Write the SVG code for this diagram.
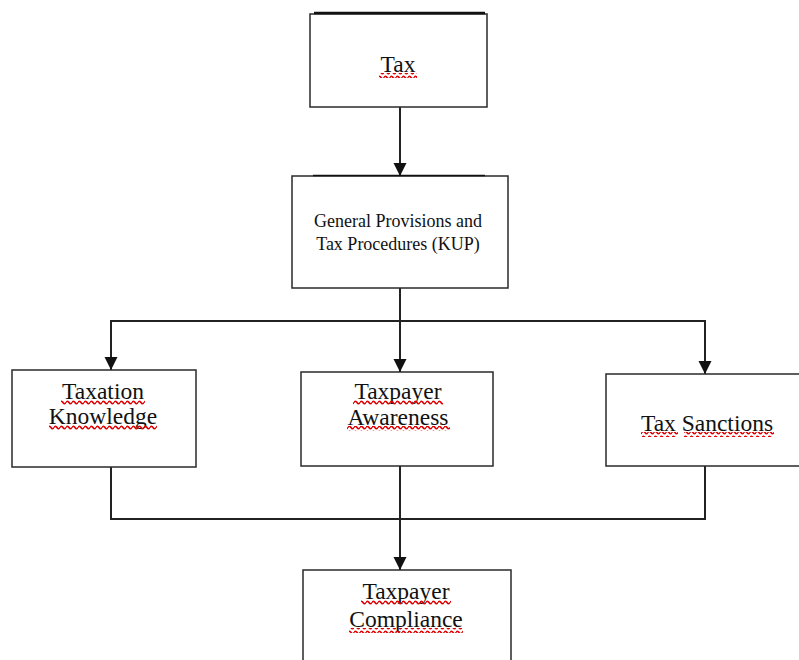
<svg xmlns="http://www.w3.org/2000/svg" width="799" height="660" viewBox="0 0 799 660">
<defs>
<style>
.box{fill:#fff;stroke:#2a2a2a;stroke-width:1.5}
.t{font-family:"Liberation Serif","Times New Roman",serif;font-size:23.5px;fill:#111;text-anchor:middle}
.s{font-family:"Liberation Serif","Times New Roman",serif;font-size:18px;fill:#111;text-anchor:middle}
.c{fill:none;stroke:#222;stroke-width:2}
.sq{fill:url(#wave)}
</style>
<pattern id="wave" patternUnits="userSpaceOnUse" width="6" height="5">
<path d="M0 2.5 Q1.5 0 3 2.5 T6 2.5" fill="none" stroke="#e00000" stroke-width="1.6"/>
</pattern>
</defs>
<rect width="799" height="660" fill="#fff"/>
<g id="connectors">
<line class="c" x1="400" y1="107" x2="400" y2="176"/>
<path d="M400 176 l-6.5 -13 h13 z" fill="#111"/>
<line class="c" x1="400" y1="288" x2="400" y2="372"/>
<path d="M400 372 l-6.5 -13 h13 z" fill="#111"/>
<line class="c" x1="110" y1="321" x2="706" y2="321"/>
<line class="c" x1="111" y1="320" x2="111" y2="370"/>
<path d="M111 370 l-6.5 -13 h13 z" fill="#111"/>
<line class="c" x1="705" y1="320" x2="705" y2="374"/>
<path d="M705 374 l-6.5 -13 h13 z" fill="#111"/>
<polyline class="c" points="111,467 111,519 705,519 705,466"/>
<line class="c" x1="400" y1="466" x2="400" y2="570"/>
<path d="M400 570 l-6.5 -13 h13 z" fill="#111"/>
</g>
<g id="tax">
<rect class="box" x="310" y="14" width="177" height="93"/>
<line x1="314" y1="13" x2="485" y2="13" stroke="#111" stroke-width="2.5"/>
<text class="t" x="398" y="72">Tax</text>
<rect class="sq" x="379" y="73" width="38" height="5"/>
</g>
<g id="kup">
<rect class="box" x="292" y="176" width="216" height="112"/>
<line x1="313" y1="175.5" x2="485" y2="175.5" stroke="#111" stroke-width="1.5"/>
<text class="s" x="398" y="227">General Provisions and</text>
<text class="s" x="398" y="250">Tax Procedures (KUP)</text>
</g>
<g id="knowledge">
<rect class="box" x="12" y="370" width="184" height="97"/>
<text class="t" x="103" y="399">Taxation</text>
<text class="t" x="103" y="424">Knowledge</text>
<rect class="sq" x="61" y="400" width="84" height="5"/>
<rect class="sq" x="49" y="425" width="108" height="5"/>
</g>
<g id="awareness">
<rect class="box" x="301" y="372" width="192" height="94"/>
<text class="t" x="398" y="399">Taxpayer</text>
<text class="t" x="398" y="425">Awareness</text>
<rect class="sq" x="353" y="400" width="90" height="5"/>
<rect class="sq" x="347" y="426" width="103" height="5"/>
</g>
<g id="sanctions">
<rect class="box" x="606" y="374" width="196" height="92"/>
<text class="t" x="707" y="431">Tax Sanctions</text>
<rect class="sq" x="641" y="432" width="37" height="5"/>
<rect class="sq" x="684" y="432" width="90" height="5"/>
</g>
<g id="compliance">
<rect class="box" x="303" y="570" width="208" height="100"/>
<text class="t" x="406" y="599">Taxpayer</text>
<text class="t" x="406" y="627">Compliance</text>
<rect class="sq" x="361" y="600" width="90" height="5"/>
<rect class="sq" x="349" y="628" width="114" height="5"/>
</g>
</svg>
